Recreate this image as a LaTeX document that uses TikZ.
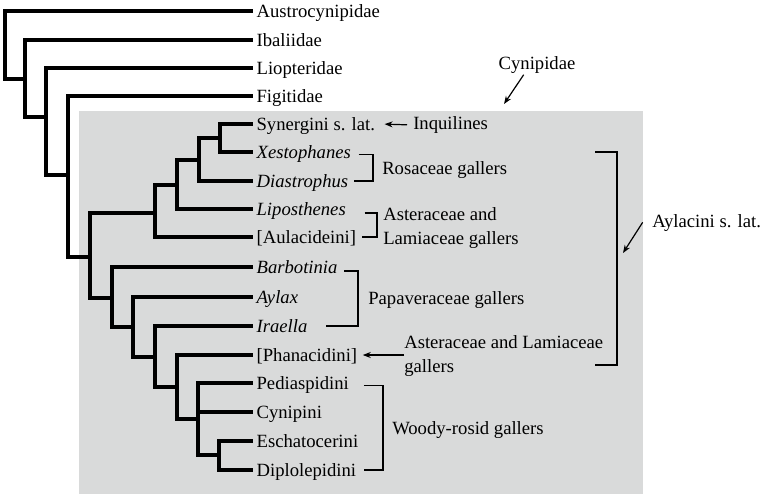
\documentclass[tikz,border=0pt]{standalone}
\usepackage{fontspec}
\setmainfont{Liberation Serif}
\usetikzlibrary{arrows.meta}

\definecolor{boxgray}{HTML}{D9DADA}

\begin{document}
\begin{tikzpicture}[x=0.75pt, y=-0.75pt,
  branch/.style={line width=3pt, line cap=rect, line join=miter},
  taxon/.style={anchor=west, inner xsep=4pt, inner ysep=0pt, text height=9.24pt, text depth=0pt, font=\fontsize{14}{18}\selectfont},
  habit/.style={anchor=west, inner sep=0pt, align=left, font=\fontsize{14}{18}\selectfont},
  title/.style={inner sep=0pt, text height=9.24pt, text depth=0pt, font=\fontsize{14}{18}\selectfont},
  brk/.style={line width=1pt},
  arr/.style={line width=0.9pt, -{Stealth[length=6pt, width=4.5pt]}}]
  \useasboundingbox (0,0) rectangle (762,497);
  \fill[boxgray] (79,111) rectangle (643,494);

  % taxa
  \node (aus) [taxon] at (251, 11) {Austrocynipidae};
  \node (iba) [taxon] at (251, 40) {Ibaliidae};
  \node (lio) [taxon] at (251, 68) {Liopteridae};
  \node (fig) [taxon] at (251, 96) {Figitidae};
  \node (syn) [taxon] at (251, 124) {Synergini s. lat.};
  \node (xes) [taxon] at (251, 152) {\itshape Xestophanes};
  \node (dia) [taxon] at (251, 181) {\itshape Diastrophus};
  \node (lip) [taxon] at (251, 209) {\itshape Liposthenes};
  \node (aul) [taxon] at (251, 237) {[Aulacideini]};
  \node (bar) [taxon] at (251, 267) {\itshape Barbotinia};
  \node (ayl) [taxon] at (251, 297) {\itshape Aylax};
  \node (ira) [taxon] at (251, 326) {\itshape Iraella};
  \node (pha) [taxon] at (251, 355) {[Phanacidini]};
  \node (ped) [taxon] at (251, 383) {Pediaspidini};
  \node (cyp) [taxon] at (251, 412) {Cynipini};
  \node (esc) [taxon] at (251, 441) {Eschatocerini};
  \node (dip) [taxon] at (251, 470) {Diplolepidini};

  % internal nodes
  \coordinate (n1) at (5, 45);
  \coordinate (n2) at (25, 79);
  \coordinate (n3) at (46, 117);
  \coordinate (n4) at (68, 175);
  \coordinate (n5) at (90, 257);
  \coordinate (n6) at (155, 213);
  \coordinate (n7) at (177, 185);
  \coordinate (n8) at (199, 160);
  \coordinate (n9) at (220, 138);
  \coordinate (n10) at (112, 298);
  \coordinate (n11) at (133, 327);
  \coordinate (n12) at (155, 357);
  \coordinate (n13) at (177, 387);
  \coordinate (n14) at (198, 419);
  \coordinate (n15) at (219, 455);

  \foreach \p/\c in {n1/n2, n2/n3, n3/n4, n4/n5, n5/n6, n6/n7, n7/n8, n8/n9,
      n5/n10, n10/n11, n11/n12, n12/n13, n13/n14, n14/n15}
    \draw[branch] (\p) |- (\c);
  \foreach \p/\c in {n1/aus, n2/iba, n3/lio, n4/fig, n9/syn, n9/xes, n8/dia,
      n7/lip, n6/aul, n10/bar, n11/ayl, n12/ira, n13/pha, n14/ped, n14/cyp,
      n15/esc, n15/dip}
    \draw[branch] (\p) |- (\c.west);

  % groups
  \node (inq) [habit] at (413, 125) {Inquilines};
  \node (rosa) [habit] at (382, 170) {Rosaceae gallers};
  \node (astlam) [habit] at (383, 228) {Asteraceae and\\Lamiaceae gallers};
  \node (papa) [habit] at (368, 300) {Papaveraceae gallers};
  \node (phanote) [habit] at (404, 356) {Asteraceae and Lamiaceae\\gallers};
  \node (woody) [habit] at (392, 430) {Woody-rosid gallers};
  \node (cyn) [title] at (537, 63) {Cynipidae};
  \node (aylac) [title, anchor=west] at (652, 221) {Aylacini s. lat.};

  \coordinate (rosa-v) at (373, 0);
  \coordinate (astlam-v) at (377, 0);
  \coordinate (papa-v) at (358, 0);
  \coordinate (woody-v) at (383, 0);
  \coordinate (aylac-v) at (617, 0);
  \coordinate (aylac-top) at (595, 152);
  \coordinate (aylac-bot) at (595, 365);
  \coordinate (cyn-tip) at (504, 104);
  \coordinate (aylac-tip) at (623, 253);

  \draw[brk] ([xshift=1.5pt, yshift=-2pt]xes.east) -| (rosa-v |- dia.east) -- (dia.east);
  \draw[brk] ([xshift=10pt, yshift=-3pt]lip.east) -| (astlam-v |- aul.east) -- (aul.east);
  \draw[brk] ([xshift=1pt, yshift=-3pt]bar.east) -| (papa-v |- ira.east) -- ([xshift=10pt]ira.east);
  \draw[brk] ([xshift=7pt, yshift=-2pt]ped.east) -| (woody-v |- dip.east) -- ([xshift=2pt]dip.east);
  \draw[brk] (aylac-top) -| (aylac-v |- aylac-bot) -- (aylac-bot);

  \draw[arr, shorten <=4.5pt, shorten >=3pt] (inq.west) -- (syn.east);
  \draw[arr] (phanote.west |- pha.east) -- (pha.east);
  \draw[arr] ([xshift=-10pt, yshift=-4pt]cyn.south) -- (cyn-tip);
  \draw[arr] ([xshift=-7pt, yshift=-1pt]aylac.west) -- (aylac-tip);
\end{tikzpicture}
\end{document}
